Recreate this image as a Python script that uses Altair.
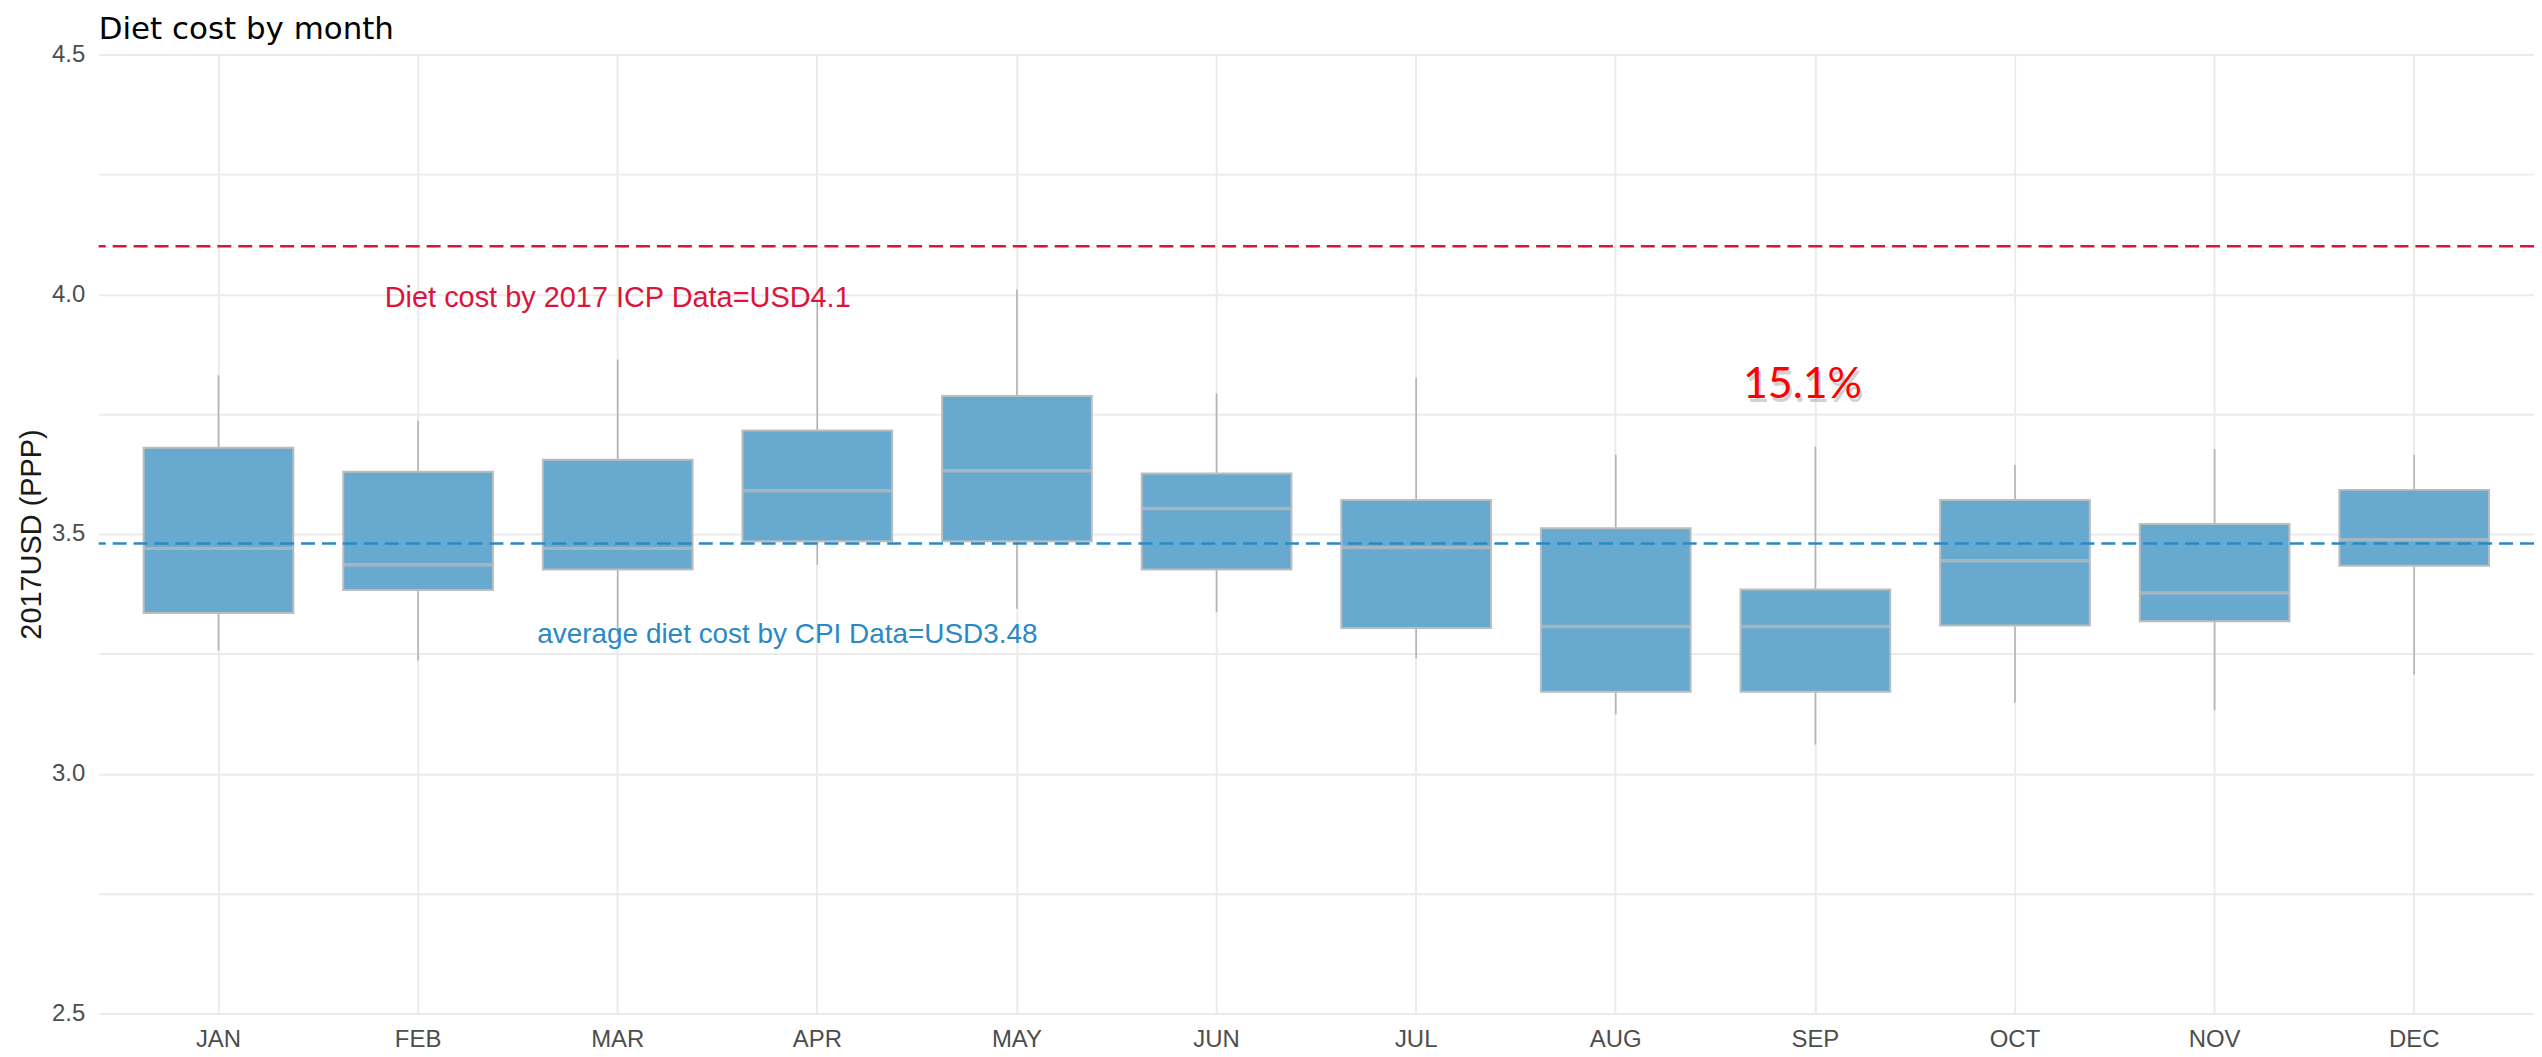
import altair as alt
import pandas as pd

months = ["JAN", "FEB", "MAR", "APR", "MAY", "JUN", "JUL", "AUG", "SEP", "OCT", "NOV", "DEC"]
lower = [3.257, 3.236, 3.290, 3.436, 3.344, 3.337, 3.241, 3.124, 3.061, 3.148, 3.132, 3.207]
q1 = [3.335, 3.383, 3.426, 3.485, 3.485, 3.426, 3.304, 3.171, 3.171, 3.309, 3.318, 3.434]
median = [3.470, 3.436, 3.470, 3.590, 3.632, 3.553, 3.472, 3.307, 3.307, 3.444, 3.377, 3.488]
q3 = [3.680, 3.630, 3.655, 3.716, 3.788, 3.626, 3.571, 3.512, 3.384, 3.571, 3.521, 3.592]
upper = [3.831, 3.736, 3.864, 3.990, 4.010, 3.793, 3.826, 3.665, 3.682, 3.644, 3.677, 3.665]

icp_value = 4.1
cpi_value = 3.48
y_ticks = [2.5, 2.75, 3.0, 3.25, 3.5, 3.75, 4.0, 4.25, 4.5]

box_df = pd.DataFrame({"month": months, "lower": lower, "q1": q1, "median": median,
                       "q3": q3, "upper": upper})
ref_df = pd.DataFrame({"name": ["ICP", "CPI"], "value": [icp_value, cpi_value],
                       "color": ["#dc143c", "#2a89c5"]})
icp_text = pd.DataFrame({"month": ["MAR"], "y": [4.0], "label": ["Diet cost by 2017 ICP Data=USD4.1"]})
cpi_text = pd.DataFrame({"month": ["APR"], "y": [3.29], "label": ["average diet cost by CPI Data=USD3.48"]})
pct_text = pd.DataFrame({"month": ["SEP"], "y": [3.81], "label": ["15.1%"]})

W, H = 2443, 962
STEP = W / 12.2
BOX = 0.75 * STEP

xscale = alt.Scale(domain=months, paddingInner=0, paddingOuter=0.1)
xaxis = alt.Axis(title=None, labelFontSize=24, labelFont="Liberation Sans", labelColor="#4d4d4d",
                 ticks=False, tickSize=0, labelPadding=14, domain=False, grid=True,
                 gridColor="#ebebeb", gridWidth=2, labelAngle=0, bandPosition=0.5)
yscale = alt.Scale(domain=[2.5, 4.5], nice=False, zero=False)
yaxis = alt.Axis(values=y_ticks,
                 labelExpr="datum.value % 0.5 === 0 ? format(datum.value, '.1f') : ''",
                 title="2017USD (PPP)", titleFontSize=29, titleFont="Liberation Sans",
                 titleFontWeight="normal", titleColor="#1a1a1a", titleX=-67,
                 titleBaseline="middle", labelFontSize=24, labelFont="Liberation Sans",
                 labelColor="#4d4d4d", labelPadding=14, ticks=False, tickSize=0,
                 domain=False, grid=True, gridColor="#ebebeb", gridWidth=2)


def X():
    return alt.X("month:N", sort=months, scale=xscale, axis=xaxis)


def Y(field):
    return alt.Y(field, type="quantitative", scale=yscale, axis=yaxis)


whisker = alt.Chart(box_df).mark_rule(color="#b3b3b3", strokeWidth=1.6).encode(
    x=X(), y=Y("lower"), y2="upper")

box = alt.Chart(box_df).mark_bar(size=BOX, fill="#67a9cf", stroke="#bdbdbd", strokeWidth=2).encode(
    x=X(), y=Y("q1"), y2="q3")

med = alt.Chart(box_df).mark_tick(size=BOX, thickness=3.5, color="#bdbdbd").encode(
    x=X(), y=Y("median"))

ref_lines = alt.Chart(ref_df).mark_rule(strokeWidth=2.5, strokeDash=[14, 7]).encode(
    y=Y("value"), color=alt.Color("color:N", scale=None))

t_icp = alt.Chart(icp_text).mark_text(font="Liberation Sans", fontSize=29, color="#dc143c",
                                      align="center", baseline="middle", dy=4).encode(
    x=X(), y=Y("y"), text="label:N")

t_cpi = alt.Chart(cpi_text).mark_text(font="Liberation Sans", fontSize=28, color="#2a89c5",
                                      align="center", baseline="middle", dx=-30).encode(
    x=X(), y=Y("y"), text="label:N")

t_pct_shadow = alt.Chart(pct_text).mark_text(font="Lato", fontSize=43, color="#9a9a9a", opacity=0.45,
                                             align="center", baseline="middle", dx=-11, dy=4).encode(
    x=X(), y=Y("y"), text="label:N")

t_pct = alt.Chart(pct_text).mark_text(font="Lato", fontSize=43, color="#ff0000",
                                      align="center", baseline="middle", dx=-13).encode(
    x=X(), y=Y("y"), text="label:N")

chart = alt.layer(whisker, box, med, ref_lines, t_icp, t_cpi, t_pct_shadow, t_pct).properties(
    width=W, height=H,
    title=alt.Title("Diet cost by month", anchor="start", frame="group", font="DejaVu Sans",
                    fontSize=31, fontWeight="normal", color="black", offset=-3),
    padding={"left": 91, "top": 45, "right": 0, "bottom": 36},
    autosize=alt.AutoSizeParams(type="none"),
    background="white",
).configure_view(stroke=None)

chart.save("out.html", embed_options={"renderer": "svg", "actions": False})
